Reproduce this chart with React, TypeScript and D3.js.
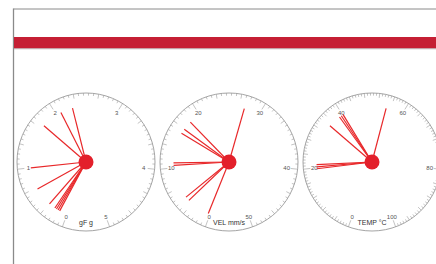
import * as d3 from 'd3';
import React from 'react';

// dial setup
const gaugeTitles = ['gF g', 'VEL mm/s', 'TEMP °C'];
const gaugeMaxes = [5, 50, 100];
const gaugeTickLabels = [
  [0, 1, 2, 3, 4, 5],
  [0, 10, 20, 30, 40, 50],
  [0, 20, 40, 60, 80, 100],
];
const gaugeMinorPerMajor = [15, 15, 25];

// needle readings (one line per reading)
const gfReadings = [2.28, 2.08, 1.73, 1.0, 0.64, 0.33, 0.22, 0.19, 0.16, 0.13];
const velReadings = [27.5, 18.1, 16.6, 15.8, 10.8, 10.4, 4.8, 4.1, 0.3];
const tempReadings = [54.6, 40.2, 39.5, 38.8, 34.6, 21, 20.3, 19.7];

const allReadings = [gfReadings, velReadings, tempReadings];

const width = 436;
const height = 264;

interface GaugeProps {
  cx: number;
  cy: number;
  radius: number;
  max: number;
  labels: number[];
  minorPerMajor: number;
  readings: number[];
  title: string;
}

const polar = (cx: number, cy: number, r: number, deg: number): [number, number] => {
  const a = (deg * Math.PI) / 180;
  return [cx + r * Math.sin(a), cy - r * Math.cos(a)];
};

const Gauge: React.FC<GaugeProps> = ({ cx, cy, radius, max, labels, minorPerMajor, readings, title }) => {
  const angle = d3.scaleLinear().domain([0, max]).range([-160, 160]);
  const majorCount = labels.length - 1;
  const total = majorCount * minorPerMajor;
  const ticks = d3.range(total + 1).map((i) => (max * i) / total);
  const needleLen = radius - 13.5;

  return (
    <g>
      <circle cx={cx} cy={cy} r={radius} fill="#fff" stroke="#9a9a9a" strokeWidth={0.9} />
      {ticks.map((t, i) => {
        const len = i % minorPerMajor === 0 ? 7 : i % 5 === 0 ? 4.5 : 2.6;
        const [x1, y1] = polar(cx, cy, radius, angle(t));
        const [x2, y2] = polar(cx, cy, radius - len, angle(t));
        return <line key={`t-${i}`} x1={x1} y1={y1} x2={x2} y2={y2} stroke="#9a9a9a" strokeWidth={0.6} />;
      })}
      {labels.map((l) => {
        const [x, y] = polar(cx, cy, radius - 11, angle(l));
        return (
          <text
            key={`l-${l}`}
            x={x}
            y={y}
            textAnchor="middle"
            dominantBaseline="central"
            fontSize={6}
            fill="#555"
          >
            {l}
          </text>
        );
      })}
      <text x={cx} y={cy + 60} textAnchor="middle" dominantBaseline="central" fontSize={7} fill="#333">
        {title}
      </text>
      {readings.map((v, i) => {
        const [x2, y2] = polar(cx, cy, needleLen, angle(v));
        return <line key={`n-${i}`} x1={cx} y1={cy} x2={x2} y2={y2} stroke="#e8282a" strokeWidth={1.2} />;
      })}
      <circle cx={cx} cy={cy} r={7.5} fill="#e3202b" />
    </g>
  );
};

const App: React.FC = () => {
  const xPos = d3.scaleLinear().domain([0, 2]).range([86, 372]);
  const cy = 162;
  const radius = 69;

  return (
    <svg
      width={width}
      height={height}
      style={{ position: 'fixed', left: 0, top: 0, background: '#fff' }}
      fontFamily="'Liberation Sans', Arial, sans-serif"
    >
      <rect x={0} y={0} width={width} height={height} fill="#fff" />
      <line x1={13.5} y1={9} x2={width} y2={9} stroke="#8a8a8a" strokeWidth={1} />
      <line x1={13.5} y1={8.5} x2={13.5} y2={height} stroke="#8a8a8a" strokeWidth={1.3} />
      <rect x={14} y={37} width={width - 14} height={11.5} fill="#c51f34" />
      <line x1={14} y1={48.8} x2={width} y2={48.8} stroke="#b0b0b0" strokeWidth={0.8} />
      {gaugeTitles.map((title, i) => (
        <Gauge
          key={title}
          cx={xPos(i)}
          cy={cy}
          radius={radius}
          max={gaugeMaxes[i]}
          labels={gaugeTickLabels[i]}
          minorPerMajor={gaugeMinorPerMajor[i]}
          readings={allReadings[i]}
          title={title}
        />
      ))}
    </svg>
  );
};

export default App;
